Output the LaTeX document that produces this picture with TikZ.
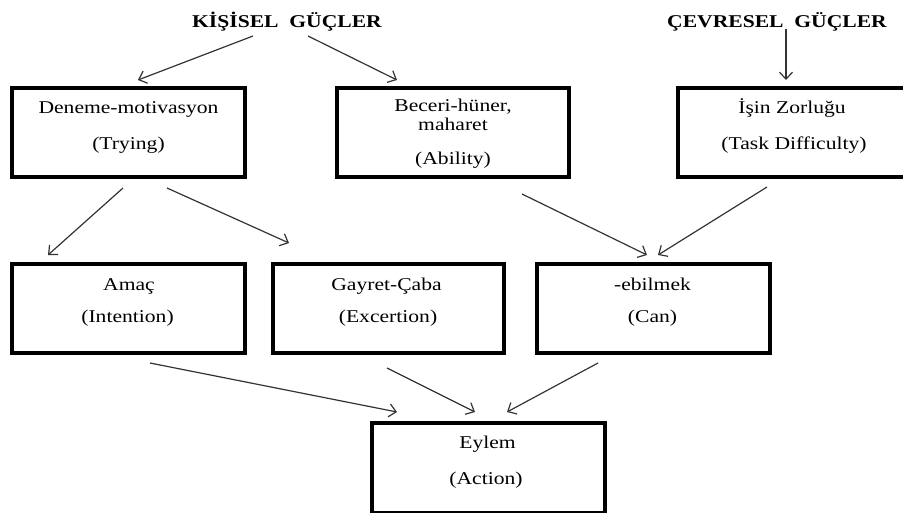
\documentclass[tikz,border=0pt]{standalone}
\usepackage{fontspec}
\setmainfont{Liberation Serif}[FakeStretch=1.2]
\usetikzlibrary{arrows.meta}
\definecolor{arrowgray}{HTML}{333333}
\tikzset{
  boxnode/.style={draw=black, line width=3.2pt, rectangle, inner sep=0pt, minimum height=90pt},
  txt/.style={anchor=base, inner sep=0pt, font=\fontsize{18}{20}\selectfont},
  title/.style={anchor=base, inner sep=0pt, font=\fontsize{18}{20}\selectfont\bfseries},
  conn/.style={draw=arrowgray, line width=1.2pt, -{Straight Barb[length=7pt,width=13pt,line width=1.2pt]}}
}
\begin{document}
\begin{tikzpicture}[x=1pt,y=-1pt]
\useasboundingbox (0,0) rectangle (903,512);
% titles
\node[title] (kg) at (287,27) {KİŞİSEL\ \ GÜÇLER};
\node[title] (cg) at (777,27) {ÇEVRESEL\ \ GÜÇLER};
% boxes
\node[boxnode, minimum width=233pt, minimum height=89pt] (den) at (128.5,132.5) {};
\node[boxnode, minimum width=232pt, minimum height=89pt] (bec) at (453,132.5) {};
\node[boxnode, minimum width=232pt, minimum height=89pt] (isin) at (794,132.5) {};
\node[boxnode, minimum width=233pt, minimum height=89pt] (amac) at (128.5,308.5) {};
\node[boxnode, minimum width=231pt, minimum height=89pt] (gay) at (388.5,308.5) {};
\node[boxnode, minimum width=233pt, minimum height=89pt] (ebil) at (653.5,308.5) {};
\node[boxnode, minimum width=233pt] (eyl) at (488.5,468) {};
% texts
\node[txt] (den1) at (128.5,113) {Deneme-motivasyon};
\node[txt] (den2) at (128.5,149) {(Trying)};
\node[txt] (bec1) at (453,111) {Beceri-hüner,};
\node[txt] (bec2) at (453,130) {maharet};
\node[txt] (bec3) at (453,164) {(Ability)};
\node[txt] (isin1) at (792,113) {İşin Zorluğu};
\node[txt] (isin2) at (794,149) {(Task Difficulty)};
\node[txt] (amac1) at (129,290) {Amaç};
\node[txt] (amac2) at (127.5,322) {(Intention)};
\node[txt] (gay1) at (386.5,290) {Gayret-Çaba};
\node[txt] (gay2) at (388,322) {(Excertion)};
\node[txt] (ebil1) at (652.5,290) {-ebilmek};
\node[txt] (ebil2) at (652.5,322) {(Can)};
\node[txt] (eyl1) at (487.5,448) {Eylem};
\node[txt] (eyl2) at (486,484) {(Action)};
% connector end points
\coordinate (a1s) at (253,36);  \coordinate (a1e) at (138,80);
\coordinate (a2s) at (308,36);  \coordinate (a2e) at (397,80);
\coordinate (a3s) at (786,29);  \coordinate (a3e) at (786,80);
\coordinate (a4s) at (123,188); \coordinate (a4e) at (48,255);
\coordinate (a5s) at (167,188); \coordinate (a5e) at (289,243);
\coordinate (a6s) at (522,194); \coordinate (a6e) at (647,255);
\coordinate (a7s) at (767,187); \coordinate (a7e) at (658,255);
\coordinate (a8s) at (150,363); \coordinate (a8e) at (397,412);
\coordinate (a9s) at (387,368); \coordinate (a9e) at (475,412);
\coordinate (a10s) at (598,363); \coordinate (a10e) at (507,412);
% connectors
\draw[conn] (a1s) -- (a1e);
\draw[conn] (a2s) -- (a2e);
\draw[conn] (a3s) -- (a3e);
\draw[conn] (a4s) -- (a4e);
\draw[conn] (a5s) -- (a5e);
\draw[conn] (a6s) -- (a6e);
\draw[conn] (a7s) -- (a7e);
\draw[conn] (a8s) -- (a8e);
\draw[conn] (a9s) -- (a9e);
\draw[conn] (a10s) -- (a10e);
\end{tikzpicture}
\end{document}
